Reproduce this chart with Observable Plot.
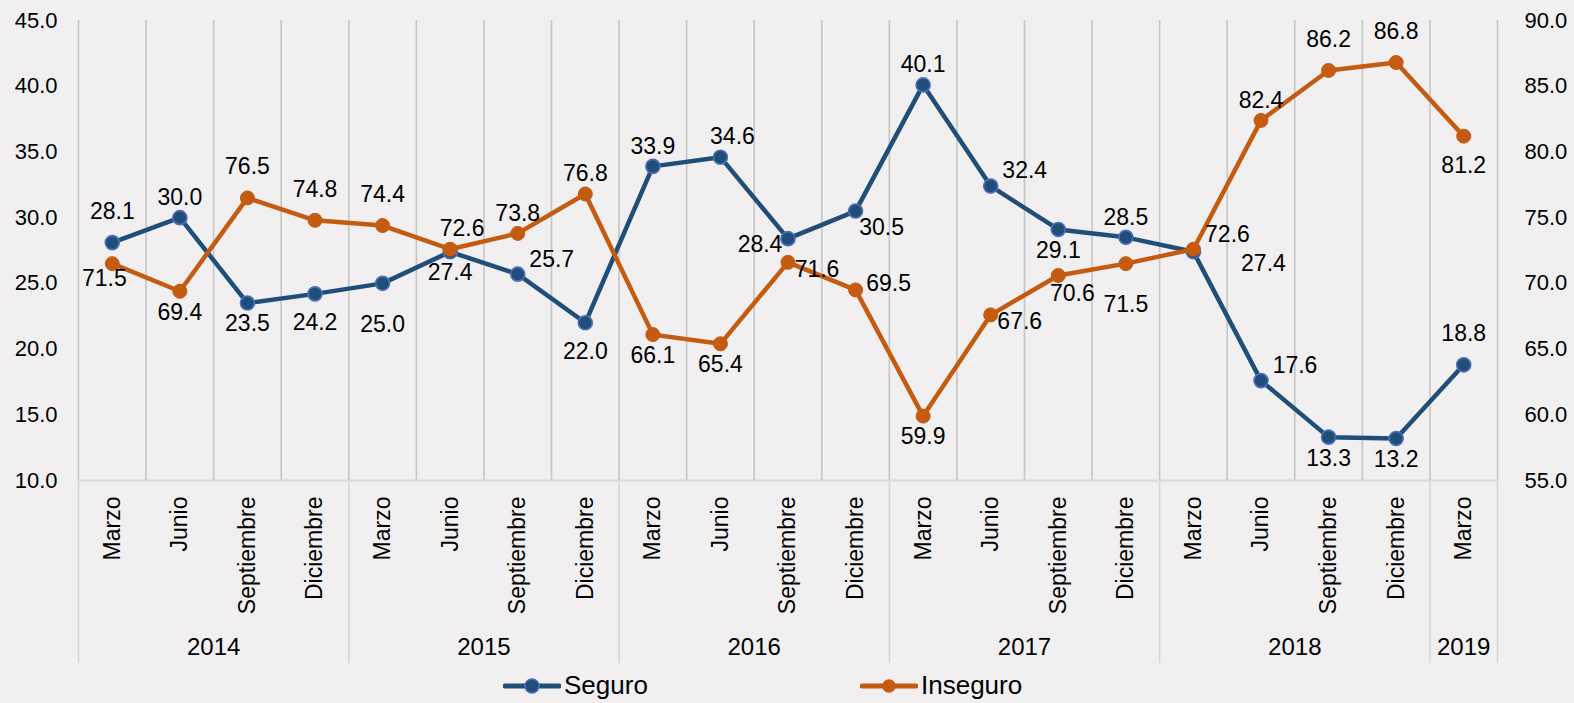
<!DOCTYPE html>
<html><head><meta charset="utf-8">
<script src="https://cdn.jsdelivr.net/npm/d3@7"></script>
<script src="https://cdn.jsdelivr.net/npm/@observablehq/plot@0.6"></script>
<style>
html,body{margin:0;padding:0;background:#f1eff0;}
body{width:1574px;height:703px;overflow:hidden;font-family:"Liberation Sans",Arial,sans-serif;}
#legend{position:relative;height:35px;width:1574px;}
.item{position:absolute;top:0;height:35px;display:flex;align-items:center;font-size:26px;color:#000;}
.item svg{display:block;margin-right:3px;}
</style></head><body>
<div id="chart"></div>
<div id="legend"></div>
<script>
const months = ["Marzo","Junio","Septiembre","Diciembre","Marzo","Junio","Septiembre","Diciembre","Marzo","Junio","Septiembre","Diciembre","Marzo","Junio","Septiembre","Diciembre","Marzo","Junio","Septiembre","Diciembre","Marzo"];
const periodYear = ["2014","2014","2014","2014","2015","2015","2015","2015","2016","2016","2016","2016","2017","2017","2017","2017","2018","2018","2018","2018","2019"];
const seguro = [28.1,30.0,23.5,24.2,25.0,27.4,25.7,22.0,33.9,34.6,28.4,30.5,40.1,32.4,29.1,28.5,27.4,17.6,13.3,13.2,18.8];
const inseguro = [71.5,69.4,76.5,74.8,74.4,72.6,73.8,76.8,66.1,65.4,71.6,69.5,59.9,67.6,70.6,71.5,72.6,82.4,86.2,86.8,81.2];
const leftTicks = [10,15,20,25,30,35,40,45];
const rightTicks = [55,60,65,70,75,80,85,90];
const seriesNames = ["Seguro","Inseguro"];
// label placement codes (above / below / right ...)
const seguroLabelPlace = ["T","t","b","B","BB","b","ru","B","t","tr","l","rb","t","ru","b","t","rr","ru","b","b","T"];
const inseguroLabelPlace = ["bl","b","T","T","T","tr","t","t","b","b","rd","r","b","rd","br","BB","ru","t","T","T","B"];

const placeOffsets = {t:[0,-20],T:[0,-31],b:[0,21],B:[0,29],BB:[0,41],tr:[12,-21],ru:[34,-15],r:[33,-6],rd:[29,7],rb:[26,17],rr:[70,12],l:[-28,6],bl:[-8,15],br:[14,18]};
const offset = rightTicks[0] - leftTicks[0];
const colors = {Seguro:"#1f4e79", Inseguro:"#c55a11"};

const n = months.length;
const segRows = seguro.map((v,i)=>({i, v, y:v, place:seguroLabelPlace[i]}));
const insRows = inseguro.map((v,i)=>({i, v, y:v-offset, place:inseguroLabelPlace[i]}));
const allRows = segRows.concat(insRows);

// year groups
const yearGroups = [];
periodYear.forEach((y,i)=>{
  const last = yearGroups[yearGroups.length-1];
  if (last && last.year===y) last.end = i; else yearGroups.push({year:y,start:i,end:i});
});
yearGroups.forEach(g=>g.mid=(g.start+g.end)/2);
const yearBounds = [yearGroups[0].start-0.5, ...yearGroups.map(g=>g.end+0.5)];
const catBounds = d3.range(n+1).map(k=>k-0.5);

const labelMarks = Object.keys(placeOffsets).map(code=>
  Plot.text(allRows.filter(d=>d.place===code), {
    x:"i", y:"y", text:d=>d.v.toFixed(1), dx:placeOffsets[code][0], dy:placeOffsets[code][1],
    fontSize:23, fill:"#000", lineAnchor:"middle"
  })
);

const chart = Plot.plot({
  width:1574, height:668,
  marginTop:20, marginBottom:188, marginLeft:78, marginRight:77,
  style:{background:"#f1eff0", fontFamily:"'Liberation Sans', Arial, sans-serif", color:"#000"},
  x:{type:"linear", domain:[-0.5, n-0.5], axis:null, label:null},
  y:{domain:[leftTicks[0], leftTicks[leftTicks.length-1]], axis:null, label:null},
  marks:[
    Plot.ruleX(catBounds, {stroke:"#c6c6c6", strokeWidth:1.6}),
    Plot.ruleX(yearBounds, {stroke:"#d6d6d6", strokeWidth:1.6, insetTop:460, insetBottom:-183}),
    Plot.ruleY([leftTicks[0]], {stroke:"#d9d9d9", strokeWidth:2}),
    Plot.axisY(leftTicks, {anchor:"left", label:null, tickSize:0, tickPadding:21, tickFormat:d=>d.toFixed(1), fontSize:22}),
    Plot.axisY(leftTicks, {anchor:"right", label:null, tickSize:0, tickPadding:27, tickFormat:d=>(d+offset).toFixed(1), fontSize:22}),
    Plot.axisX(d3.range(n), {anchor:"bottom", label:null, tickFormat:i=>months[i], tickRotate:-90, tickSize:0, tickPadding:16, fontSize:23}),
    Plot.text(yearGroups, {x:"mid", text:"year", frameAnchor:"bottom", lineAnchor:"middle", dy:167, fontSize:24, fill:"#000"}),
    Plot.line(segRows, {x:"i", y:"y", stroke:colors.Seguro, strokeWidth:4.5}),
    Plot.dot(segRows, {x:"i", y:"y", r:7, fill:colors.Seguro, stroke:"#4d6fbb", strokeWidth:1.6}),
    Plot.line(insRows, {x:"i", y:"y", stroke:colors.Inseguro, strokeWidth:4.5}),
    Plot.dot(insRows, {x:"i", y:"y", r:7, fill:colors.Inseguro, stroke:colors.Inseguro, strokeWidth:1}),
    ...labelMarks
  ]
});
document.getElementById("chart").appendChild(chart);

// legend
const legend = document.getElementById("legend");
const legendX = {Seguro:503, Inseguro:860};
seriesNames.forEach(name=>{
  const item = document.createElement("div");
  item.className="item";
  item.style.left = legendX[name]+"px";
  const ring = name==="Seguro" ? "#4d6fbb" : colors[name];
  item.innerHTML = `<svg width="58" height="20"><line x1="2" y1="10" x2="56" y2="10" stroke="${colors[name]}" stroke-width="5" stroke-linecap="round"/><circle cx="29" cy="10" r="${name==="Seguro"?7:6}" fill="${colors[name]}" stroke="${ring}" stroke-width="1.5"/></svg><span>${name}</span>`;
  legend.appendChild(item);
});
</script>
</body></html>
